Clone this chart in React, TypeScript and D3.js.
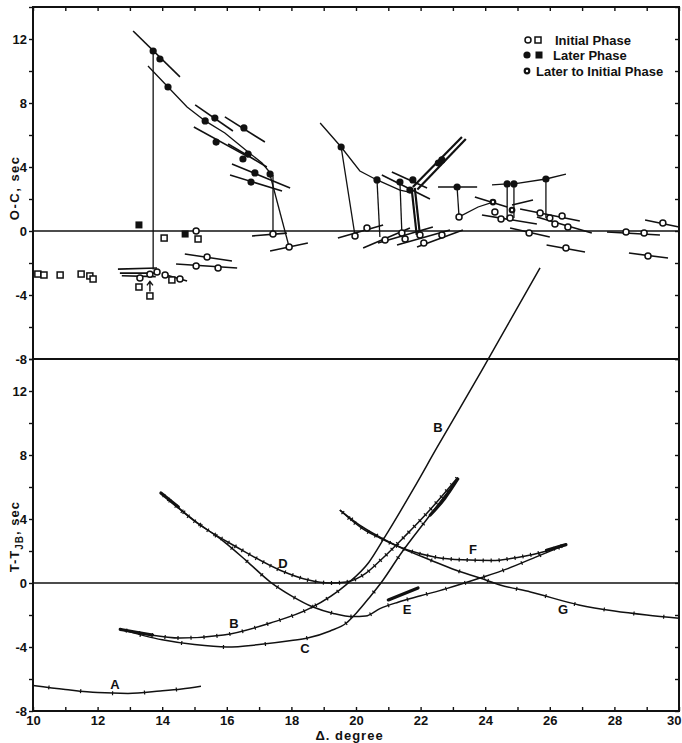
import { useRef, useEffect } from 'react';
import * as d3 from 'd3';

type Pt = [number, number];
type Bar = [number, number, number, number]; // x1, y1, x2, y2 (deg, sec)

// ---------------------------------------------------------------
// Upper panel: O-C residuals (sec) against distance (deg)
const initialSquares: Pt[] = [
  [10.15, -2.69], [10.34, -2.75], [10.84, -2.75], [11.49, -2.69], [11.76, -2.81], [11.86, -3.0],
  [13.28, -3.5], [13.62, -4.06], [14.3, -3.06], [14.06, -0.44], [15.11, -0.5],
];
const laterSquares: Pt[] = [[13.28, 0.38], [14.71, -0.19]];

const initialCircles: Pt[] = [
  [17.93, -1.0], [17.43, -0.19], [15.05, 0.0], [15.39, -1.63], [15.05, -2.19], [15.73, -2.31],
  [13.31, -2.94], [13.84, -2.56], [13.62, -2.7], [14.09, -2.75], [14.55, -3.0],
  [19.97, -0.31], [20.34, 0.19], [20.9, -0.56], [21.42, -0.12], [21.52, -0.5], [21.98, -0.25],
  [22.1, -0.75], [22.66, -0.25], [23.19, 0.88],
  [24.3, 1.19], [24.49, 0.75], [24.77, 0.81], [25.7, 1.13], [26.0, 0.81], [26.38, 0.94],
  [26.16, 0.44], [26.56, 0.25], [25.36, -0.13], [26.5, -1.06], [28.36, -0.06], [28.92, -0.13],
  [29.5, 0.5], [29.04, -1.56],
];
const laterCircles: Pt[] = [
  [13.72, 11.25], [13.93, 10.75], [14.18, 9.0], [15.33, 6.88], [15.63, 7.06], [16.53, 6.44],
  [15.67, 5.56], [16.66, 4.81], [16.5, 4.5], [16.87, 3.63], [17.34, 3.56], [16.75, 3.06],
  [19.54, 5.25], [20.65, 3.19], [21.36, 3.06], [21.76, 3.19], [21.67, 2.56], [22.66, 4.44],
  [22.55, 4.25], [23.13, 2.75],
  [24.68, 2.94], [24.89, 2.94], [25.88, 3.25],
];
const laterToInitial: Pt[] = [[24.24, 1.81], [24.83, 1.31]];

// slowness bars drawn through the readings
const laterBars: Bar[] = [
  [13.1, 12.5, 14.55, 9.63], [15.02, 7.88, 16.19, 6.25], [15.94, 7.13, 17.18, 5.56],
  [14.98, 6.5, 16.66, 4.63], [16.04, 5.44, 17.24, 4.0], [16.16, 4.19, 17.96, 2.69],
  [16.1, 3.5, 17.71, 2.5],
  [20.8, 3.5, 22.29, 2.0], [21.11, 3.69, 22.2, 2.69], [22.54, 2.75, 23.75, 2.75],
  [23.68, 2.13, 24.68, 1.5], [24.83, 1.63, 25.48, 1.94],
];
const initialBars: Bar[] = [
  [14.7, -1.44, 16.16, -1.88], [14.43, -2.06, 16.32, -2.31], [17.34, -1.25, 18.51, -0.75],
  [16.78, -0.31, 17.86, -0.13], [12.63, -2.38, 13.84, -2.31], [12.69, -2.63, 13.93, -2.63],
  [12.75, -2.8, 13.8, -2.85], [14.02, -2.69, 14.77, -3.13],
  [19.44, -0.44, 20.84, 0.38], [20.22, -1.06, 21.67, 0.19], [20.68, -0.75, 22.38, 0.25],
  [21.27, -0.88, 22.91, 0.06], [21.89, -1.0, 23.31, 0.06],
  [23.9, 1.0, 25.6, 0.44], [25.08, 1.38, 26.93, 0.63], [25.6, 0.88, 27.3, -0.13],
  [24.77, 0.19, 26.0, -0.38], [25.9, -0.88, 27.09, -1.31], [27.77, -0.06, 29.41, -0.25],
  [28.95, 0.69, 30.0, 0.25], [28.45, -1.38, 29.66, -1.69],
];

// lines joining a later phase to its initial phase
const linkLines: Pt[][] = [
  [[13.56, 10.31], [14.18, 9.0], [14.77, 7.75], [15.33, 6.88], [15.94, 6.13], [16.66, 4.94], [17.09, 4.25], [17.4, 3.5]],
  [[13.72, 11.25], [13.72, -2.4]],
  [[17.34, 3.5], [17.93, -1.0]],
  [[17.43, 3.5], [17.43, -0.19]],
  [[18.89, 6.75], [19.54, 5.25], [20.12, 3.75], [20.65, 3.19], [21.36, 2.56], [21.76, 2.38]],
  [[19.54, 5.25], [19.97, -0.31]],
  [[20.65, 3.19], [20.74, -0.37]],
  [[21.36, 3.06], [21.42, -0.12]],
  [[23.13, 2.75], [23.19, 0.88]],
  [[23.19, 0.88], [23.78, 1.5], [24.24, 1.81]],
  [[24.21, 2.88], [24.68, 2.94], [24.89, 2.94], [25.88, 3.25], [26.5, 3.56]],
  [[24.68, 2.94], [24.68, 0.81]],
  [[24.89, 2.94], [24.89, 0.81]],
  [[25.88, 3.25], [25.88, 0.81]],
];
const heavyLinks: Pt[][] = [
  [[21.72, 2.7], [21.88, -0.25]], [[21.82, 2.7], [21.98, -0.25]],
  [[21.76, 2.75], [23.28, 5.88]], [[21.9, 2.6], [23.4, 5.75]],
];
const arrowTips: Pt[] = [[13.62, -3.15]];

// ---------------------------------------------------------------
// Lower panel: T - T_JB (sec) curves
const curveA: Pt[] = [[10, -6.4], [11, -6.65], [12, -6.85], [12.94, -6.9], [13.94, -6.75], [14.6, -6.62], [15.2, -6.45]];
const curveB: Pt[] = [
  [12.7, -2.9], [13.5, -3.2], [14.55, -3.44], [15.9, -3.25], [17.35, -2.5], [18.6, -1.56],
  [19.7, -0.1], [20.4, 1.3], [20.87, 2.8], [21.77, 5.85], [22.5, 8.44], [23.9, 13.3], [25.7, 19.7],
];
const curveC: Pt[] = [
  [12.7, -2.9], [14, -3.55], [15, -3.85], [16, -4.0], [17, -3.85], [18, -3.6], [18.5, -3.44],
  [19.2, -3.0], [19.7, -2.5], [20.0, -1.9], [20.43, -0.87], [20.84, 0.19], [21.36, 1.75],
  [22.2, 4.0], [23.15, 6.5],
];
const curveD: Pt[] = [
  [13.96, 5.63], [15.08, 3.75], [16.3, 2.25], [17.65, 0.8], [18.5, 0.2], [19.2, 0.0],
  [19.7, 0.06], [20.3, 0.6], [20.8, 1.5], [21.5, 2.9], [22.3, 4.6], [23.15, 6.6],
];
const curveE: Pt[] = [
  [13.96, 5.63], [15, 3.9], [15.9, 2.6], [16.6, 1.4], [17.35, 0.06], [18.0, -0.8], [18.67, -1.5],
  [19.3, -1.9], [19.9, -2.1], [20.3, -2.06], [20.74, -1.6], [21.3, -1.2], [22, -0.8],
  [22.8, -0.35], [23.84, 0.31], [24.7, 0.9], [25.6, 1.65], [26.5, 2.4],
];
const curveF: Pt[] = [
  [19.5, 4.56], [20.2, 3.4], [20.74, 2.81], [21.6, 2.06], [22.5, 1.6], [23.3, 1.45],
  [24.2, 1.4], [25.0, 1.6], [25.9, 2.0], [26.5, 2.4],
];
const curveG: Pt[] = [
  [19.5, 4.56], [20.2, 3.5], [20.8, 2.8], [21.5, 2.1], [22.3, 1.44], [23.1, 0.8], [23.84, 0.31],
  [24.46, -0.12], [25.4, -0.56], [26.9, -1.37], [28, -1.75], [29, -2.0], [30, -2.2],
];
// short heavy strokes laid over parts of the curves
const heavyStrokes: Pt[][] = [
  [[12.7, -2.9], [13.2, -3.08], [13.7, -3.25]],
  [[21.0, -1.06], [21.92, -0.31]],
  [[22.3, 4.25], [22.75, 5.3], [23.15, 6.5]],
  [[25.9, 2.05], [26.5, 2.4]],
  [[13.96, 5.63], [14.5, 4.75]],
];
const curveLabels: [string, number, number][] = [
  ['A', 12.54, -6.31], ['B', 16.22, -2.5], ['B', 22.54, 9.75], ['C', 18.42, -4.06],
  ['D', 17.74, 1.25], ['E', 21.58, -1.63], ['F', 23.62, 2.13], ['G', 26.41, -1.63],
];

const xTickValues = d3.range(10, 31, 1);
const yTickValues = d3.range(-8, 15, 2);

export default function App() {
  const svgRef = useRef<SVGSVGElement | null>(null);

  useEffect(() => {
    const svg = d3.select(svgRef.current);
    svg.selectAll('*').remove();

    const font = "'Liberation Sans', Arial, sans-serif";
    const ink = '#111';

    const x = d3.scaleLinear().domain([10, 30]).range([33, 679]);
    const yTop = d3.scaleLinear().domain([-8, 14]).range([359, 7]);
    const yBot = d3.scaleLinear().domain([-8, 14]).range([711, 359]);
    const [x0, x1] = x.range();

    const styleAxis = (g: d3.Selection<SVGGElement, unknown, null, undefined>) => {
      g.select('.domain').remove();
      g.selectAll('line').attr('stroke', ink).attr('stroke-width', 1.4);
      g.selectAll('text')
        .attr('fill', ink)
        .style('font-family', font)
        .style('font-size', '13px')
        .style('font-weight', 'bold');
    };
    const yLabel = (d: d3.NumberValue) => (+d % 4 === 0 ? String(d) : '');

    // -----------------------------
    // axes: left (labelled), right and top (ticks only), bottom (labelled)
    [yTop, yBot].forEach((y) => {
      svg.append('g')
        .attr('transform', `translate(${x0},0)`)
        .call(d3.axisLeft(y).tickValues(yTickValues).tickSize(4).tickPadding(2).tickFormat(yLabel))
        .call(styleAxis);
      svg.append('g')
        .attr('transform', `translate(${x1},0)`)
        .call(d3.axisRight(y).tickValues(yTickValues).tickSize(-4).tickFormat(() => ''))
        .call(styleAxis);
    });
    svg.append('g')
      .attr('transform', `translate(0,${yTop.range()[1]})`)
      .call(d3.axisTop(x).tickValues(xTickValues).tickSize(-4).tickFormat(() => ''))
      .call(styleAxis);
    const xAxisG = svg.append('g')
      .attr('transform', `translate(0,${yBot.range()[0]})`)
      .call(d3.axisBottom(x).tickValues(xTickValues).tickSizeInner(-4).tickSizeOuter(0).tickPadding(5)
        .tickFormat((d) => (+d % 2 === 0 ? String(d) : '')))
      .call(styleAxis);
    // the last label sits at the page edge: pull it inside
    xAxisG.selectAll<SVGTextElement, number>('text')
      .filter((d) => d === 30)
      .attr('text-anchor', 'end')
      .attr('dx', 2);

    // frame and panel divider
    const frame = svg.append('g').attr('stroke', ink).attr('stroke-width', 2).attr('fill', 'none');
    frame.append('rect')
      .attr('x', x0).attr('y', yTop.range()[1])
      .attr('width', x1 - x0).attr('height', yBot.range()[0] - yTop.range()[1]);
    frame.append('line').attr('x1', x0).attr('x2', x1).attr('y1', yTop(-8)).attr('y2', yTop(-8));

    // zero lines
    [yTop(0), yBot(0)].forEach((yy) => {
      svg.append('line')
        .attr('x1', x0).attr('x2', x1).attr('y1', yy).attr('y2', yy)
        .attr('stroke', ink).attr('stroke-width', 1.4);
    });

    // -----------------------------
    // upper panel: bars, links, then the readings on top
    const top = svg.append('g');
    const lineTop = d3.line<Pt>().x((d) => x(d[0])).y((d) => yTop(d[1]));

    [...laterBars, ...initialBars].forEach((b) => {
      top.append('line')
        .attr('x1', x(b[0])).attr('y1', yTop(b[1]))
        .attr('x2', x(b[2])).attr('y2', yTop(b[3]))
        .attr('stroke', ink).attr('stroke-width', 1.6);
    });
    linkLines.forEach((l) => {
      top.append('path').attr('d', lineTop(l)).attr('fill', 'none')
        .attr('stroke', ink).attr('stroke-width', 1.3);
    });
    heavyLinks.forEach((l) => {
      top.append('path').attr('d', lineTop(l)).attr('fill', 'none')
        .attr('stroke', ink).attr('stroke-width', 2.2);
    });
    arrowTips.forEach((t) => {
      const tx = x(t[0]), ty = yTop(t[1]);
      top.append('path')
        .attr('d', `M${tx},${ty + 10}V${ty}M${tx - 3},${ty + 4}L${tx},${ty}L${tx + 3},${ty + 4}`)
        .attr('fill', 'none').attr('stroke', ink).attr('stroke-width', 1.4);
    });

    initialSquares.forEach((d) => {
      top.append('rect')
        .attr('x', x(d[0]) - 3).attr('y', yTop(d[1]) - 3).attr('width', 6).attr('height', 6)
        .attr('fill', '#fff').attr('stroke', ink).attr('stroke-width', 1.5);
    });
    laterSquares.forEach((d) => {
      top.append('rect')
        .attr('x', x(d[0]) - 3.5).attr('y', yTop(d[1]) - 3.5).attr('width', 7).attr('height', 7)
        .attr('fill', ink);
    });
    initialCircles.forEach((d) => {
      top.append('circle')
        .attr('cx', x(d[0])).attr('cy', yTop(d[1])).attr('r', 3)
        .attr('fill', '#fff').attr('stroke', ink).attr('stroke-width', 1.5);
    });
    laterCircles.forEach((d) => {
      top.append('circle').attr('cx', x(d[0])).attr('cy', yTop(d[1])).attr('r', 3.6).attr('fill', ink);
    });
    laterToInitial.forEach((d) => {
      top.append('circle').attr('cx', x(d[0])).attr('cy', yTop(d[1])).attr('r', 3.4).attr('fill', ink);
      top.append('circle').attr('cx', x(d[0])).attr('cy', yTop(d[1])).attr('r', 1.2).attr('fill', '#fff');
    });

    // legend
    const lg = svg.append('g').style('font-family', font).style('font-size', '13px')
      .style('font-weight', 'bold').attr('fill', ink);
    lg.append('circle').attr('cx', 528).attr('cy', 40).attr('r', 3)
      .attr('fill', '#fff').attr('stroke', ink).attr('stroke-width', 1.5);
    lg.append('rect').attr('x', 535).attr('y', 37).attr('width', 6).attr('height', 6)
      .attr('fill', '#fff').attr('stroke', ink).attr('stroke-width', 1.5);
    lg.append('text').attr('x', 555).attr('y', 45).text('Initial Phase');
    lg.append('circle').attr('cx', 527).attr('cy', 55).attr('r', 3.6).attr('fill', ink);
    lg.append('rect').attr('x', 535.5).attr('y', 51.5).attr('width', 7).attr('height', 7).attr('fill', ink);
    lg.append('text').attr('x', 553).attr('y', 60).text('Later Phase');
    lg.append('circle').attr('cx', 527).attr('cy', 71).attr('r', 3.4).attr('fill', ink);
    lg.append('circle').attr('cx', 527).attr('cy', 71).attr('r', 1.2).attr('fill', '#fff');
    lg.append('text').attr('x', 536).attr('y', 76).text('Later to Initial Phase');

    // -----------------------------
    // lower panel: curves with small ticks along them
    const bot = svg.append('g');
    const lineBot = d3.line<Pt>().x((d) => x(d[0])).y((d) => yBot(d[1])).curve(d3.curveMonotoneX);
    const tickSpec: Record<string, [number, number]> = {
      A: [32, 30], B: [13, 19.6], C: [42, 30], D: [8, 30], E: [20, 30], F: [8, 30], G: [30, 30],
    };
    const curves: [string, Pt[]][] = [
      ['A', curveA], ['B', curveB], ['C', curveC], ['D', curveD], ['E', curveE], ['F', curveF], ['G', curveG],
    ];
    curves.forEach(([name, pts]) => {
      const path = bot.append('path').attr('d', lineBot(pts)).attr('fill', 'none')
        .attr('stroke', ink).attr('stroke-width', 1.5);
      const node = path.node() as SVGPathElement;
      const total = node.getTotalLength();
      const [sp, xMax] = tickSpec[name];
      for (let s = sp / 2; s < total; s += sp) {
        const p = node.getPointAtLength(s);
        if (x.invert(p.x) > xMax) break;
        const pa = node.getPointAtLength(Math.max(0, s - 1));
        const pb = node.getPointAtLength(Math.min(total, s + 1));
        const dx = pb.x - pa.x, dy = pb.y - pa.y;
        const n = Math.hypot(dx, dy) || 1;
        const nx = -dy / n, ny = dx / n;
        bot.append('line')
          .attr('x1', p.x - nx * 2).attr('y1', p.y - ny * 2)
          .attr('x2', p.x + nx * 2).attr('y2', p.y + ny * 2)
          .attr('stroke', ink).attr('stroke-width', 1.2);
      }
    });
    heavyStrokes.forEach((l) => {
      bot.append('path').attr('d', lineBot(l)).attr('fill', 'none')
        .attr('stroke', ink).attr('stroke-width', 3.2).attr('stroke-linecap', 'round');
    });
    curveLabels.forEach(([t, lx, ly]) => {
      bot.append('text')
        .attr('x', x(lx)).attr('y', yBot(ly)).attr('dy', '0.36em')
        .attr('text-anchor', 'middle')
        .style('font-family', font).style('font-size', '13px').style('font-weight', 'bold')
        .attr('fill', ink).text(t);
    });

    // -----------------------------
    // axis titles
    const titles = svg.append('g').style('font-family', font).style('font-weight', 'bold')
      .style('font-size', '13px').attr('fill', ink);
    titles.append('text')
      .attr('transform', `translate(19,${yTop(2.7)}) rotate(-90)`)
      .attr('text-anchor', 'middle').style('letter-spacing', '1.5px')
      .text('O-C, sec');
    const tt = titles.append('text')
      .attr('transform', `translate(19,${yBot(2.9)}) rotate(-90)`)
      .attr('text-anchor', 'middle').style('letter-spacing', '1px');
    tt.append('tspan').text('T-T');
    tt.append('tspan').attr('dy', 4).style('font-size', '10px').text('JB');
    tt.append('tspan').attr('dy', -4).text(', sec');
    titles.append('text')
      .attr('x', x(19.8)).attr('y', 740).attr('text-anchor', 'middle')
      .style('letter-spacing', '1px')
      .text('Δ. degree');
  }, []);

  return (
    <svg
      ref={svgRef}
      width={682}
      height={743}
      style={{ position: 'absolute', left: 0, top: 0, background: '#fff' }}
    />
  );
}
